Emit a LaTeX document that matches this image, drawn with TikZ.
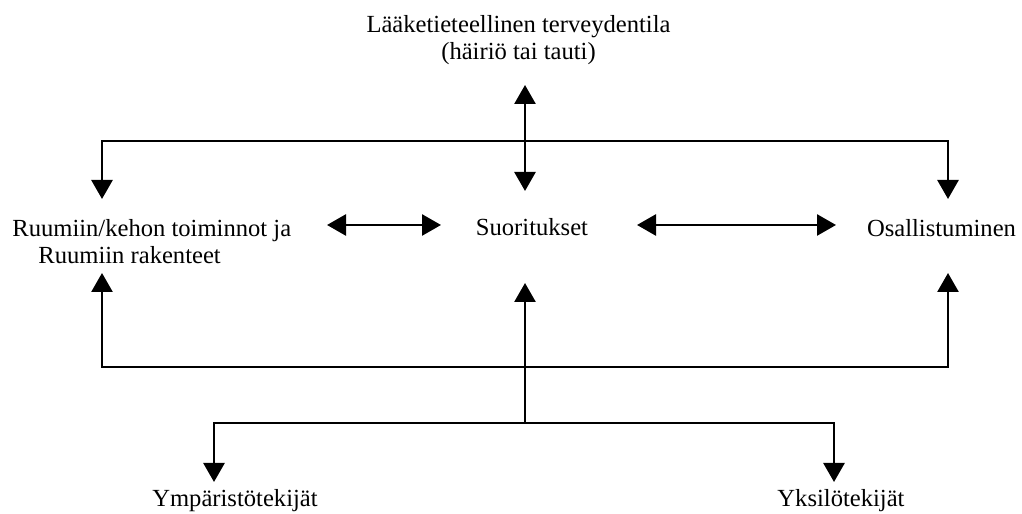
\documentclass[tikz,border=0pt]{standalone}
\usepackage{fontspec}
\setmainfont{Liberation Serif}
\usetikzlibrary{arrows.meta}

\begin{document}
\begin{tikzpicture}[
  lab/.style={font=\fontsize{14}{15.5}\selectfont, inner sep=0pt},
  bar/.style={line width=1.5pt},
  arr/.style={bar, -{Triangle[length=0.38cm,width=0.42cm]}},
  dbl/.style={bar, {Triangle[length=0.38cm,width=0.42cm]}-{Triangle[length=0.38cm,width=0.42cm]}}
]
  \useasboundingbox (0,0) rectangle (20.44,10.28);

  % tekstit
  \node[lab, align=center] (cond) at (10.37,9.48) {Lääketieteellinen terveydentila\\(häiriö tai tauti)};
  \node[lab, align=left, anchor=west] (body) at (0.24,5.45) {Ruumiin/kehon toiminnot ja\\\hspace*{0.52cm}Ruumiin rakenteet};
  \node[lab] (act) at (10.64,5.74) {Suoritukset};
  \node[lab] (part) at (18.83,5.72) {Osallistuminen};
  \node[lab] (env) at (4.70,0.26) {Ympäristötekijät};
  \node[lab] (pers) at (16.82,0.26) {Yksilötekijät};

  % nuolten päät ja risteykset
  \coordinate (condlow) at (10.5,8.58);
  \coordinate (acttop)  at (10.5,6.46);
  \coordinate (tophub)  at (10.5,7.46);
  \coordinate (bodytop) at (2.04,6.30);
  \coordinate (parttop) at (18.96,6.30);
  \coordinate (bodyl)   at (6.54,5.78);
  \coordinate (actl)    at (8.82,5.78);
  \coordinate (actr)    at (12.74,5.78);
  \coordinate (partl)   at (16.72,5.78);
  \coordinate (bodybot) at (2.04,4.82);
  \coordinate (partbot) at (18.96,4.82);
  \coordinate (actbot)  at (10.5,4.62);
  \coordinate (bothub)  at (10.5,2.94);
  \coordinate (ctxhub)  at (10.5,1.82);
  \coordinate (envtop)  at (4.28,0.64);
  \coordinate (perstop) at (16.68,0.64);

  % ylärivi
  \draw[dbl] (condlow) -- (acttop);
  \draw[arr] (tophub) -| (bodytop);
  \draw[arr] (tophub) -| (parttop);

  % keskirivi
  \draw[dbl] (bodyl) -- (actl);
  \draw[dbl] (actr) -- (partl);

  % alarivi
  \draw[arr] (ctxhub) -- (actbot);
  \draw[arr] (bothub) -| (bodybot);
  \draw[arr] (bothub) -| (partbot);
  \draw[arr] (ctxhub) -| (envtop);
  \draw[arr] (ctxhub) -| (perstop);
\end{tikzpicture}
\end{document}
